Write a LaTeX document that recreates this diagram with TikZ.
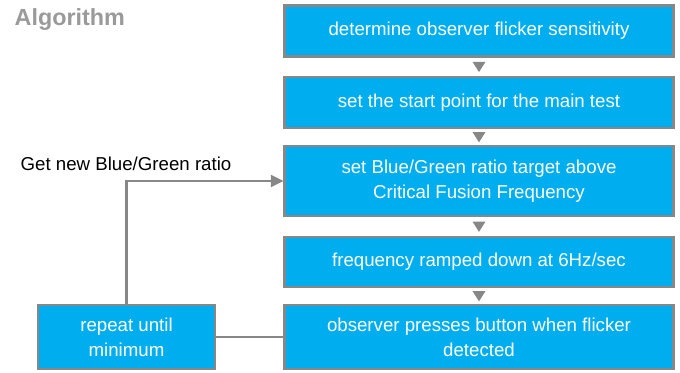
\documentclass[tikz,border=0pt]{standalone}
\usepackage{fontspec}
\setmainfont{Liberation Sans}
\usetikzlibrary{arrows.meta}
\definecolor{boxblue}{HTML}{00AEEF}
\definecolor{edgegray}{HTML}{878787}
\definecolor{titlegray}{HTML}{9A9A9A}
\begin{document}
\begin{tikzpicture}[x=0.75pt,y=-0.75pt,
  stepbox/.style={draw=edgegray,line width=1.6pt,fill=boxblue,text=white,
    align=center,font=\fontsize{14}{19}\selectfont,inner sep=0pt},
  link/.style={draw=edgegray,line width=1.6pt}]
\useasboundingbox (0,0) rectangle (680,372);
\node[anchor=north west,text=titlegray,font=\fontsize{17.5}{20}\selectfont\bfseries] (title) at (10,4) {Algorithm};
\node[stepbox,minimum width=291.75pt,minimum height=38.25pt] (s1) at (479,31) {determine observer flicker sensitivity};
\node[stepbox,minimum width=291.75pt,minimum height=38.25pt] (s2) at (479,102.5) {set the start point for the main test};
\node[stepbox,minimum width=291.75pt,minimum height=52.5pt] (s3) at (479,181) {set Blue/Green ratio target above\\Critical Fusion Frequency};
\node[stepbox,minimum width=291.75pt,minimum height=37.5pt] (s4) at (479,262) {frequency ramped down at 6Hz/sec};
\node[stepbox,minimum width=291.75pt,minimum height=48pt] (s5) at (479,337) {observer presses button when flicker\\detected};
\node[stepbox,minimum width=132.75pt,minimum height=48pt] (rep) at (126.5,337) {repeat until\\minimum};
\node[anchor=west,font=\fontsize{14}{16}\selectfont] (lbl) at (16,164) {Get new Blue/Green ratio};
% downward triangles between steps
\foreach \a/\b in {s1/s2,s2/s3,s3/s4,s4/s5}{
  \path (\a.south) -- (\b.north) coordinate[pos=0.5] (m);
  \fill[edgegray] ([xshift=-4.8pt,yshift=3.6pt]m) -- ([xshift=4.8pt,yshift=3.6pt]m) -- ([yshift=-4pt]m) -- cycle;
}
% feedback loop
\coordinate (bend) at (rep.north |- s3.west);
\draw[link,-{Triangle[length=9.5pt,width=9pt]}] (rep.north) -- (bend) -- (s3.west);
\draw[link] (rep.east) -- (s5.west);
\end{tikzpicture}
\end{document}
